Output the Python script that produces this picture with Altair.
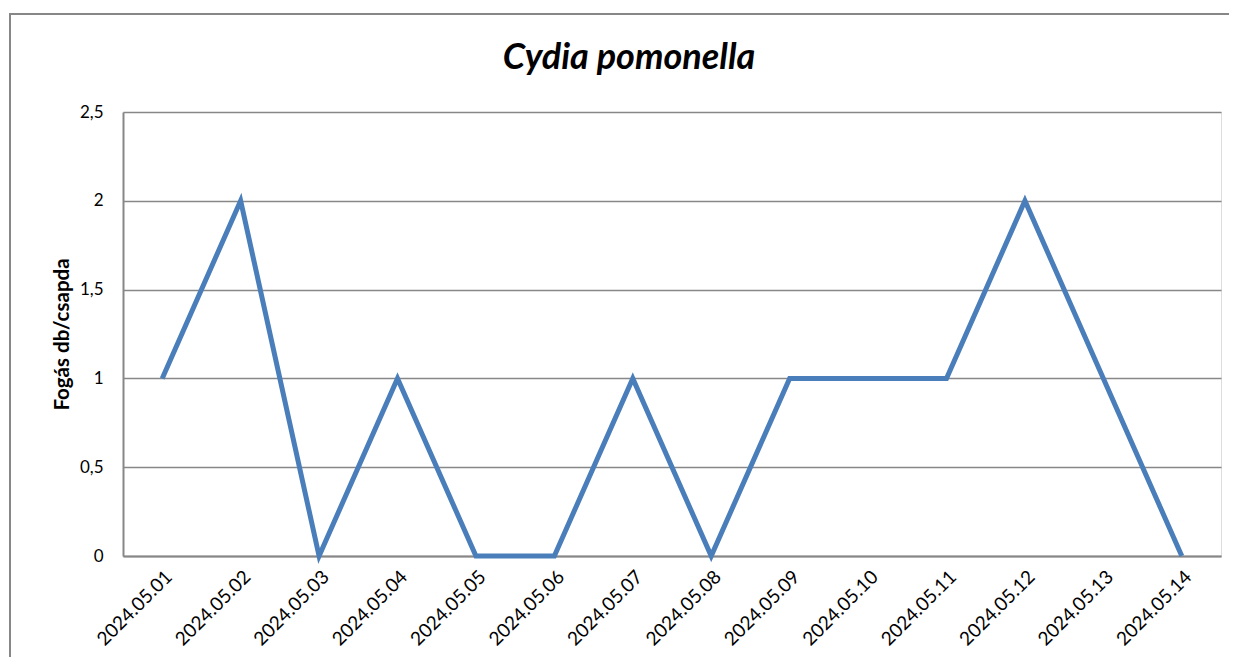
import altair as alt
import pandas as pd

dates = ["2024.05.01", "2024.05.02", "2024.05.03", "2024.05.04", "2024.05.05",
         "2024.05.06", "2024.05.07", "2024.05.08", "2024.05.09", "2024.05.10",
         "2024.05.11", "2024.05.12", "2024.05.13", "2024.05.14"]
values = [1, 2, 0, 1, 0, 0, 1, 0, 1, 1, 1, 2, 1, 0]
chart_title = "Cydia pomonella"

df = pd.DataFrame({"date": dates, "value": values})
title_df = pd.DataFrame({"t": [chart_title]})

GRAY = "#878787"
FONT = "Lato"

frame = alt.Chart(title_df).mark_rect(fill="transparent", stroke=GRAY, strokeWidth=2, clip=False).encode(
    x=alt.value(-113), x2=alt.value(1200), y=alt.value(-98), y2=alt.value(700)
)

title = alt.Chart(title_df).mark_text(font=FONT, fontSize=36, fontStyle="italic", fontWeight="bold",
                                      color="#000000", align="center", baseline="middle").encode(
    text="t:N", x=alt.value(506), y=alt.value(-54)
)

line = alt.Chart(df).mark_line(color="#4a7ebb", strokeWidth=5, clip=False).encode(
    x=alt.X("date:O", sort=dates,
            scale=alt.Scale(type="point", padding=0.5),
            axis=alt.Axis(title=None, labelAngle=-45, labelFontSize=19, labelFont=FONT,
                          labelColor="#000000", ticks=False, domainColor=GRAY, domainWidth=2,
                          labelPadding=11, labelAlign="right", labelBaseline="top")),
    y=alt.Y("value:Q", scale=alt.Scale(domain=[0, 2.5], nice=False),
            axis=alt.Axis(title="Fogás db/csapda", titleFont=FONT, titleFontSize=20.5,
                          titleFontWeight="bold", titleColor="#000000", titlePadding=7,
                          values=[0, 0.5, 1, 1.5, 2, 2.5],
                          labelExpr="replace(toString(datum.value), '.', ',')",
                          labelFont=FONT, labelFontSize=17, labelColor="#000000",
                          labelPadding=20, ticks=False, domainColor=GRAY, domainWidth=2,
                          grid=True, gridColor=GRAY, gridWidth=1.3)),
)

chart = alt.layer(frame, line, title).properties(
    width=1098, height=444,
    autosize=alt.AutoSizeParams(type="none"),
    padding={"left": 115, "top": 104, "right": 8, "bottom": 101},
).configure_view(stroke=None).configure(background="#ffffff")

chart.save("out.html", embed_options={"renderer": "svg", "actions": False})
